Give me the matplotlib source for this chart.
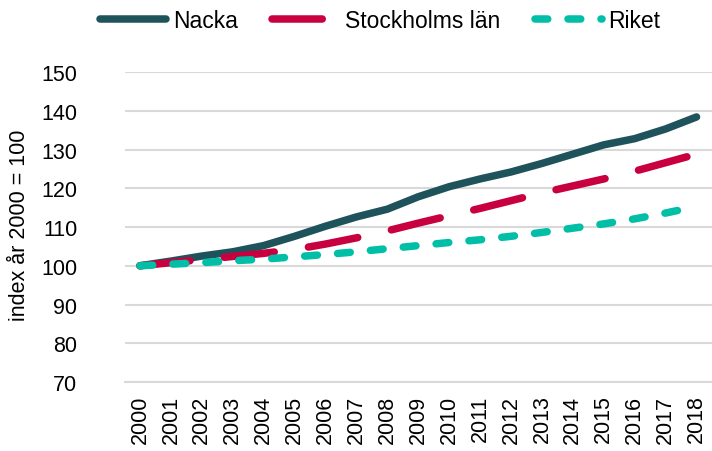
import numpy as np
import matplotlib
matplotlib.use("Agg")
import matplotlib.pyplot as plt

# === Data (index år 2000 = 100) ===
years = [str(y) for y in range(2000, 2019)]
nacka = [100, 101.2, 102.5, 103.6, 105.2, 107.6, 110.2, 112.6, 114.6, 117.8,
         120.4, 122.4, 124.2, 126.4, 128.8, 131.2, 132.8, 135.3, 138.4]
stockholm = [100, 100.8, 101.6, 102.4, 103.2, 104.2, 105.6, 107.2, 109.0, 111.0,
             112.9, 114.8, 116.8, 118.8, 120.6, 122.4, 124.4, 126.6, 128.8]
riket = [100, 100.4, 100.8, 101.3, 101.7, 102.3, 102.9, 103.6, 104.4, 105.2,
         106.0, 106.7, 107.6, 108.6, 109.7, 110.8, 112.1, 113.6, 115.3]
yticks = [70, 80, 90, 100, 110, 120, 130, 140, 150]

plt.rcParams["font.family"] = ["Liberation Sans", "DejaVu Sans"]

fig = plt.figure(figsize=(7.12, 4.52), dpi=100)
W, H = 712, 452
ax = fig.add_axes([124.5 / W, 1 - 383 / H, (712 - 124.5) / W, (383 - 73) / H])

x = np.arange(len(years))
lw = 5.4
ax.plot(x, nacka, color="#1f535b", lw=lw, solid_capstyle="round",
        solid_joinstyle="round", label="Nacka", zorder=3)
ax.plot(x, stockholm, color="#c8003f", lw=lw, dash_capstyle="round",
        dashes=(6.7, 4.6), label="Stockholms län", zorder=3)
ax.plot(x, riket, color="#00bfa6", lw=lw, dash_capstyle="round",
        dashes=(1.7, 2.7), label="Riket", zorder=3)

ax.set_xlim(-0.5, len(years) - 0.5)
ax.set_ylim(70, 150)
ax.set_yticks(yticks)
ax.set_xticks(x)
ax.set_xticklabels(years, rotation=90)
ax.grid(axis="y", color="#d9d9d9", lw=1.5, zorder=0)
ax.set_axisbelow(True)
for s in ["top", "right", "left"]:
    ax.spines[s].set_visible(False)
ax.spines["bottom"].set_color("#d9d9d9")
ax.spines["bottom"].set_linewidth(1.5)
ax.tick_params(axis="y", length=0, pad=34, labelsize=15.5)
ax.tick_params(axis="x", length=0, pad=9, labelsize=15.5)

ax.set_ylabel("index år 2000 = 100", fontsize=15.5, va="center")
ax.yaxis.set_label_coords((20 - 124.5) / (712 - 124.5), (383 - 225) / (383 - 73))

fig.legend(loc="center", bbox_to_anchor=(380 / W, 1 - 22 / H), ncol=3,
           frameon=False, fontsize=16.5, handlelength=2.9, handletextpad=0.3,
           columnspacing=1.5)

plt.savefig("out.png", dpi=100)
